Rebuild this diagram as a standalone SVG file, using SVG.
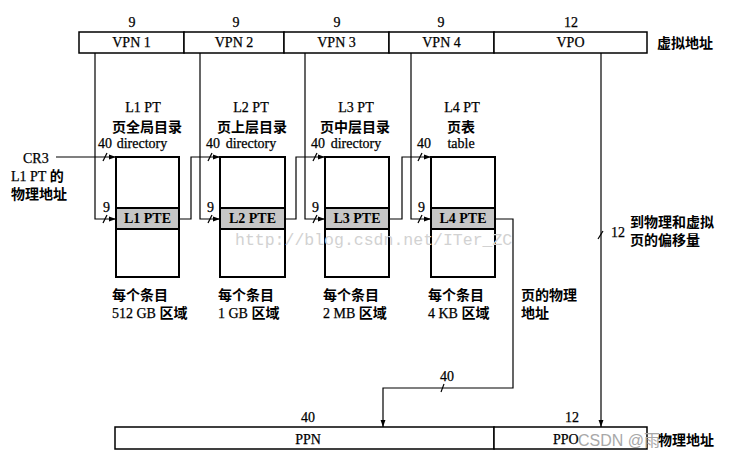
<svg xmlns="http://www.w3.org/2000/svg" width="731" height="458" viewBox="0 0 731 458">
<style>
text{font-family:"Liberation Serif","Noto Sans CJK SC","Times New Roman",serif;font-size:14px;fill:#000;stroke:#000;stroke-width:0.25}
.zh{font-size:14px;font-weight:bold;stroke-width:0}
.mid{text-anchor:middle}
.cell{fill:#fff;stroke:#000;stroke-width:1.5}
.box{fill:#fff;stroke:#000;stroke-width:2}
.pte{fill:#c6c6c6;stroke:#000;stroke-width:2}
.ln{fill:none;stroke:#000;stroke-width:1.2}
.sl{stroke:#000;stroke-width:1.2}
.pt{font-size:14px;font-weight:bold;stroke-width:0}
.wm{font-family:"Liberation Mono","DejaVu Sans Mono",monospace;font-size:16.5px;fill:#d2d2d2;stroke:none}
.wm2{font-family:"Liberation Sans","Noto Sans CJK SC",sans-serif;font-size:16px;fill:#a8a8a8;stroke:none}
</style>
<defs>
<marker id="ah" viewBox="0 0 10 10" refX="10" refY="5" markerWidth="7" markerHeight="7" markerUnits="userSpaceOnUse" orient="auto"><path d="M0,1.5 L10,5 L0,8.5 z" fill="#000"/></marker>
</defs>
<rect width="731" height="458" fill="#fff"/>

<g id="virtual-address">
<rect class="cell" x="79" y="32" width="105" height="21"/>
<rect class="cell" x="184" y="32" width="100" height="21"/>
<rect class="cell" x="284" y="32" width="105" height="21"/>
<rect class="cell" x="389" y="32" width="105" height="21"/>
<rect class="cell" x="494" y="32" width="153" height="21"/>
<text class="mid" x="132" y="27">9</text>
<text class="mid" x="236" y="27">9</text>
<text class="mid" x="337" y="27">9</text>
<text class="mid" x="441" y="27">9</text>
<text class="mid" x="571" y="27">12</text>
<text class="mid" x="131.5" y="47">VPN 1</text>
<text class="mid" x="234" y="47">VPN 2</text>
<text class="mid" x="336.5" y="47">VPN 3</text>
<text class="mid" x="441.5" y="47">VPN 4</text>
<text class="mid" x="570.5" y="47">VPO</text>
<text class="zh" x="657" y="48">虚拟地址</text>
</g>

<g id="cr3">
<text x="23" y="163">CR3</text>
<text x="11" y="181">L1 PT <tspan class="zh">的</tspan></text>
<text class="zh" x="11" y="199">物理地址</text>
</g>

<g id="l1">
<text class="mid" x="143" y="112">L1 PT</text>
<text class="zh mid" x="147" y="132">页全局目录</text>
<text x="98" y="148">40</text>
<text class="mid" x="142" y="148">directory</text>
<text x="103" y="212">9</text>
<rect class="box" x="116" y="157" width="63" height="120"/>
<rect class="pte" x="116" y="208" width="63" height="21"/>
<text class="mid pt" x="147.5" y="223">L1 PTE</text>
<text class="zh" x="112" y="300">每个条目</text>
<text x="112" y="318">512 GB <tspan class="zh">区域</tspan></text>
</g>

<g id="l2">
<text class="mid" x="251" y="112">L2 PT</text>
<text class="zh mid" x="252" y="132">页上层目录</text>
<text x="206" y="148">40</text>
<text class="mid" x="251" y="148">directory</text>
<text x="207" y="212">9</text>
<rect class="box" x="220" y="157" width="65" height="120"/>
<rect class="pte" x="220" y="208" width="65" height="21"/>
<text class="mid pt" x="252.5" y="223">L2 PTE</text>
<text class="zh" x="218" y="300">每个条目</text>
<text x="218" y="318">1 GB <tspan class="zh">区域</tspan></text>
</g>

<g id="l3">
<text class="mid" x="356" y="112">L3 PT</text>
<text class="zh mid" x="355" y="132">页中层目录</text>
<text x="311" y="148">40</text>
<text class="mid" x="356" y="148">directory</text>
<text x="312" y="212">9</text>
<rect class="box" x="325" y="157" width="64" height="120"/>
<rect class="pte" x="325" y="208" width="64" height="21"/>
<text class="mid pt" x="357" y="223">L3 PTE</text>
<text class="zh" x="323" y="300">每个条目</text>
<text x="323" y="318">2 MB <tspan class="zh">区域</tspan></text>
</g>

<g id="l4">
<text class="mid" x="462" y="112">L4 PT</text>
<text class="zh mid" x="461" y="132">页表</text>
<text x="417" y="148">40</text>
<text class="mid" x="461" y="148">table</text>
<text x="418" y="212">9</text>
<rect class="box" x="431" y="157" width="64" height="120"/>
<rect class="pte" x="431" y="208" width="64" height="21"/>
<text class="mid pt" x="463" y="223">L4 PTE</text>
<text class="zh" x="428" y="300">每个条目</text>
<text x="428" y="318">4 KB <tspan class="zh">区域</tspan></text>
</g>

<g id="ppn-label">
<text class="zh" x="521" y="300">页的物理</text>
<text class="zh" x="521" y="318">地址</text>
<text x="440" y="381">40</text>
</g>

<g id="offset-label">
<text x="611" y="237">12</text>
<text class="zh" x="630" y="227">到物理和虚拟</text>
<text class="zh" x="630" y="245">页的偏移量</text>
</g>

<g id="physical-address">
<rect class="cell" x="115" y="427" width="379" height="22"/>
<rect class="cell" x="494" y="427" width="153" height="22"/>
<text class="mid" x="308" y="422">40</text>
<text class="mid" x="572" y="422">12</text>
<text class="mid" x="308" y="444">PPN</text>
<text x="553" y="444">PPO</text>
<text class="zh" x="658" y="445">物理地址</text>
</g>

<g id="connectors">
<path class="ln" d="M95,53 V219 H116" marker-end="url(#ah)"/>
<path class="ln" d="M56,157 H116" marker-end="url(#ah)"/>
<path class="ln" d="M179,219 H191 V157 H220" marker-end="url(#ah)"/>
<path class="ln" d="M200,53 V219 H220" marker-end="url(#ah)"/>
<path class="ln" d="M285,219 H296 V157 H325" marker-end="url(#ah)"/>
<path class="ln" d="M305,53 V219 H325" marker-end="url(#ah)"/>
<path class="ln" d="M389,219 H402 V157 H431" marker-end="url(#ah)"/>
<path class="ln" d="M411,53 V219 H431" marker-end="url(#ah)"/>
<path class="ln" d="M495,219 H513 V388 H383 V427" marker-end="url(#ah)"/>
<path class="ln" d="M601,53 V427" marker-end="url(#ah)"/>
<g>
<line class="sl" x1="103" y1="161" x2="107" y2="153"/>
<line class="sl" x1="103" y1="223" x2="107" y2="215"/>
<line class="sl" x1="208" y1="161" x2="212" y2="153"/>
<line class="sl" x1="208" y1="223" x2="212" y2="215"/>
<line class="sl" x1="313" y1="161" x2="317" y2="153"/>
<line class="sl" x1="313" y1="223" x2="317" y2="215"/>
<line class="sl" x1="418" y1="161" x2="422" y2="153"/>
<line class="sl" x1="418" y1="223" x2="422" y2="215"/>
<line class="sl" x1="441" y1="392" x2="444" y2="384"/>
<line class="sl" x1="598" y1="239" x2="603" y2="231"/>
</g>
</g>

<g id="watermarks">
<text class="wm" x="235" y="245">http://blog.csdn.net/ITer_ZC</text>
<text class="wm2" x="578" y="446">CSDN @雨</text>
</g>
</svg>
